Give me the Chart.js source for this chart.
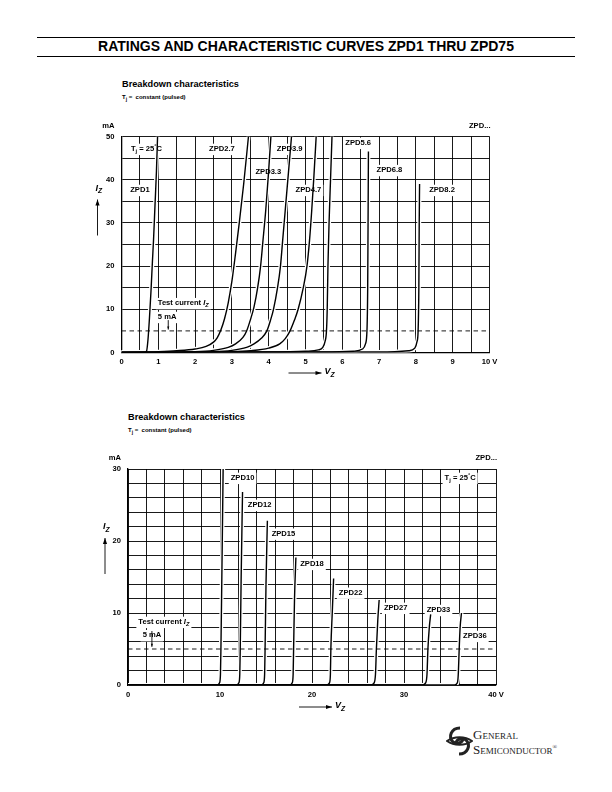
<!DOCTYPE html>
<html>
<head>
<meta charset="utf-8">
<script src="https://cdn.jsdelivr.net/npm/chart.js@4.4.1/dist/chart.umd.min.js"></script>
<style>
  body { margin: 0; width: 612px; height: 792px; position: relative; overflow: hidden; background: #fff;
         font-family: "Liberation Sans", Arial, sans-serif; color: #000; }
  .rule { position: absolute; left: 37px; width: 538px; border-top: 1.2px solid #000; }
  #title { position: absolute; left: 0; width: 612px; top: 38px; text-align: center; font-weight: bold;
           font-size: 14px; line-height: 16px; }
  .head { position: absolute; font-weight: bold; font-size: 9.2px; }
  .sub { position: absolute; font-weight: bold; font-size: 6px; }
  .sub sub { font-size: 5px; }
  canvas { position: absolute; left: 0; }
  #logo { position: absolute; left: 446px; top: 724px; width: 140px; height: 34px; }
  #logo .t { position: absolute; left: 27px; font-family: "Liberation Serif", "DejaVu Serif", serif;
             font-variant: small-caps; font-size: 13px; line-height: 13px; color: #222; }
</style>
</head>
<body>
<div class="rule" style="top:37px"></div>
<div id="title">RATINGS AND CHARACTERISTIC CURVES ZPD1 THRU ZPD75</div>
<div class="rule" style="top:56px"></div>

<div class="head" style="left:122px;top:79px">Breakdown characteristics</div>
<div class="sub" style="left:122px;top:94px">T<sub>j</sub> =&nbsp; constant (pulsed)</div>
<canvas id="topChart"></canvas>

<div class="head" style="left:128px;top:412px">Breakdown characteristics</div>
<div class="sub" style="left:128px;top:427px">T<sub>j</sub> =&nbsp; constant (pulsed)</div>
<canvas id="bottomChart"></canvas>

<div id="logo">
  <svg width="27" height="34" viewBox="0 0 27 34" style="position:absolute;left:0;top:0">
    <path d="M14 4 C5 4 2 13 7 18 C11 21 17 19 17 14" fill="none" stroke="#222" stroke-width="3"/>
    <path d="M13 30 C22 30 25 21 20 16 C16 13 10 15 10 20" fill="none" stroke="#222" stroke-width="3"/>
    <path d="M1 17 C8 12 19 12 26 17 C19 22 8 22 1 17 Z" fill="none" stroke="#222" stroke-width="1.8"/>
  </svg>
  <div class="t" style="top:4px">General</div>
  <div class="t" style="top:17px">Semiconductor<sup style="font-size:6px">®</sup></div>
</div>

<script>
// ---- top chart: ZPD1 ... ZPD8.2, V (volts) vs I (mA) ----
const topXTickLabels = ['0', '1', '2', '3', '4', '5', '6', '7', '8', '9', '10 V'];
const topYTickLabels = ['0', '10', '20', '30', '40', '50'];
const zpd1  = [[0,0],[0.6,0.05],[0.68,0.3],[0.72,3],[0.76,8],[0.8,14],[0.84,21],[0.87,26],[0.91,34],[0.95,42],[0.98,50]];
const zpd2v7 = [[0,0],[1,0.2],[1.5,0.4],[2,0.8],[2.3,1.4],[2.5,2.4],[2.6,3.4],[2.7,5.2],[2.8,7.8],[2.9,11.5],[3.0,16.5],[3.1,23],[3.2,30],[3.32,39],[3.45,50]];
const zpd3v3 = [[0,0],[2,0.2],[2.5,0.5],[2.9,1.2],[3.1,2],[3.3,3.5],[3.4,5],[3.5,7.5],[3.6,10.5],[3.7,15],[3.78,20],[3.84,25.5],[3.92,33],[3.99,41],[4.06,50]];
const zpd3v9 = [[0,0],[2.5,0.2],[3,0.5],[3.4,1.2],[3.6,2],[3.8,3.3],[3.95,5],[4.05,7.5],[4.13,10],[4.24,15],[4.32,20],[4.38,26],[4.45,33],[4.53,41],[4.62,50]];
const zpd4v7 = [[0,0],[3,0.2],[3.5,0.4],[4,1],[4.3,2],[4.45,3.2],[4.58,5],[4.7,7.5],[4.8,10],[4.94,15],[5.04,20],[5.11,26],[5.17,33],[5.23,41],[5.29,50]];
const zpd5v6 = [[0,0],[4,0.1],[5,0.3],[5.35,0.6],[5.47,1.2],[5.53,2.5],[5.57,5],[5.59,10],[5.61,20],[5.64,30],[5.68,40],[5.72,50]];
const zpd6v8 = [[0,0],[5.5,0.1],[6.3,0.3],[6.55,0.8],[6.63,2],[6.67,5],[6.69,15],[6.7,30],[6.71,46.5]];
const zpd8v2 = [[0,0],[7,0.1],[7.8,0.4],[7.97,1],[8.03,2.5],[8.06,5],[8.08,15],[8.09,30],[8.1,39]];
const topTestLine = [[0,5],[10,5]];

// ---- bottom chart: ZPD10 ... ZPD36 ----
const bottomXTickLabels = ['0', '10', '20', '30', '40 V'];
const bottomYTickLabels = ['0', '10', '20', '30'];
const zpd10 = [[0,0],[9.7,0],[9.95,0.3],[10.05,1.5],[10.1,5],[10.2,15],[10.35,31]];
const zpd12 = [[0,0],[11.8,0],[12.05,0.3],[12.15,1.5],[12.2,5],[12.3,15],[12.45,26.8]];
const zpd15 = [[0,0],[14.5,0],[14.75,0.3],[14.85,1.5],[14.9,5],[15.0,14],[15.15,22.8]];
const zpd18 = [[0,0],[17.6,0],[17.85,0.3],[17.95,1.5],[18.0,5],[18.1,12],[18.25,17.7]];
const zpd22 = [[0,0],[21.6,0],[21.9,0.3],[22.0,1.5],[22.05,5],[22.2,10],[22.35,14.8]];
const zpd27 = [[0,0],[26.4,0],[26.75,0.3],[26.9,1.5],[27.0,5],[27.15,9],[27.3,11.8]];
const zpd33 = [[0,0],[32.0,0],[32.35,0.3],[32.5,1.5],[32.6,5],[32.75,8],[32.9,9.8]];
const zpd36 = [[0,0],[35.5,0],[35.8,0.3],[35.9,1.5],[36.0,5],[36.1,8],[36.25,10]];
const bottomTestLine = [[0,5],[40,5]];

const FONT = '"Liberation Sans", Arial, sans-serif';
const T_J = [{t: 'T'}, {t: 'j', sub: true}, {t: ' = 25'}, {t: '°', sup: true}, {t: 'C'}];
const TEST = [{t: 'Test current '}, {t: 'I', it: true}, {t: 'Z', sub: true, it: true}];

// curve labels, in data coordinates (centre of the text)
const topNotes = [
  {parts: T_J, x: 0.68, y: 47.1},
  {parts: [{t: 'ZPD2.7'}], x: 2.73, y: 47.1},
  {parts: [{t: 'ZPD3.9'}], x: 4.57, y: 47.1},
  {parts: [{t: 'ZPD5.6'}], x: 6.43, y: 48.5},
  {parts: [{t: 'ZPD3.3'}], x: 3.99, y: 41.8},
  {parts: [{t: 'ZPD6.8'}], x: 7.28, y: 42.2},
  {parts: [{t: 'ZPD1'}], x: 0.5, y: 37.6},
  {parts: [{t: 'ZPD4.7'}], x: 5.08, y: 37.6},
  {parts: [{t: 'ZPD8.2'}], x: 8.71, y: 37.6},
  {parts: TEST, x: 1.68, y: 11.4},
  {parts: [{t: '5 mA'}], x: 1.24, y: 8.2}
];
const bottomNotes = [
  {parts: [{t: 'ZPD10'}], x: 12.45, y: 28.75},
  {parts: [{t: 'ZPD12'}], x: 14.3, y: 25},
  {parts: [{t: 'ZPD15'}], x: 16.9, y: 21},
  {parts: [{t: 'ZPD18'}], x: 20.0, y: 16.8},
  {parts: [{t: 'ZPD22'}], x: 24.2, y: 12.8},
  {parts: [{t: 'ZPD27'}], x: 29.1, y: 10.7},
  {parts: [{t: 'ZPD33'}], x: 33.75, y: 10.4},
  {parts: [{t: 'ZPD36'}], x: 37.7, y: 6.8},
  {parts: T_J, x: 36.1, y: 28.75},
  {parts: TEST, x: 3.9, y: 8.75},
  {parts: [{t: '5 mA'}], x: 2.6, y: 6.9}
];

function partFont(p, size) {
  const s = (p.sub || p.sup) ? size * 0.75 : size;
  return (p.it ? 'italic ' : '') + 'bold ' + s + 'px ' + FONT;
}

function drawRich(ctx, parts, cx, cy, size, align, box) {
  let w = 0;
  parts.forEach(p => { ctx.font = partFont(p, size); w += ctx.measureText(p.t).width; });
  let x = align === 'center' ? cx - w / 2 : (align === 'right' ? cx - w : cx);
  if (box) {
    ctx.fillStyle = '#fff';
    ctx.fillRect(x - 2, cy - size * 0.7, w + 4, size * 1.5);
  }
  ctx.fillStyle = '#000';
  ctx.textBaseline = 'middle';
  ctx.textAlign = 'left';
  parts.forEach(p => {
    ctx.font = partFont(p, size);
    const dy = p.sub ? size * 0.3 : (p.sup ? -size * 0.3 : 0);
    ctx.fillText(p.t, x, cy + dy);
    x += ctx.measureText(p.t).width;
  });
}

function arrow(ctx, x1, y1, x2, y2, head) {
  ctx.strokeStyle = '#000';
  ctx.fillStyle = '#000';
  ctx.lineWidth = 0.9;
  ctx.beginPath(); ctx.moveTo(x1, y1); ctx.lineTo(x2, y2); ctx.stroke();
  const a = Math.atan2(y2 - y1, x2 - x1);
  ctx.beginPath();
  ctx.moveTo(x2, y2);
  ctx.lineTo(x2 - head * Math.cos(a) + head * 0.35 * Math.sin(a), y2 - head * Math.sin(a) - head * 0.35 * Math.cos(a));
  ctx.lineTo(x2 - head * Math.cos(a) - head * 0.35 * Math.sin(a), y2 - head * Math.sin(a) + head * 0.35 * Math.cos(a));
  ctx.closePath(); ctx.fill();
}

// black curves first (drawn last), then the dashed test line, then white casings (drawn first)
function curveSets(curves, testLine) {
  const sets = [];
  curves.forEach(c => sets.push({data: c.map(p => ({x: p[0], y: p[1]})), borderColor: '#000', borderWidth: 1.4, order: 1}));
  sets.push({data: testLine.map(p => ({x: p[0], y: p[1]})), borderColor: '#000', borderWidth: 0.9,
             borderDash: [4.5, 3.5], cubicInterpolationMode: 'default', tension: 0, order: 2});
  curves.forEach(c => sets.push({data: c.map(p => ({x: p[0], y: p[1]})), borderColor: '#fff', borderWidth: 4, order: 3}));
  return sets;
}

function makeChart(id, o) {
  const cv = document.getElementById(id);
  cv.style.top = o.top + 'px';
  cv.style.width = '612px';
  cv.style.height = o.height + 'px';

  const notesPlugin = {
    id: 'notes',
    // labels go on top of the white casings but under the black curves
    beforeDatasetDraw(chart, args) {
      if (args.index !== o.curves.length - 1) return;
      const ctx = chart.ctx;
      ctx.save();
      o.notes.forEach(n => {
        const px = chart.scales.x.getPixelForValue(n.x);
        const py = chart.scales.y.getPixelForValue(n.y);
        drawRich(ctx, n.parts, px, py, 7.6, 'center', true);
      });
      ctx.restore();
    },
    afterDraw(chart) {
      const ctx = chart.ctx, a = chart.chartArea;
      ctx.save();
      // test current arrow
      const ax = chart.scales.x.getPixelForValue(o.arrowX);
      arrow(ctx, ax, chart.scales.y.getPixelForValue(7.5), ax, chart.scales.y.getPixelForValue(5.3), 3);
      drawRich(ctx, [{t: 'mA'}], a.left - 7, a.top - 11, 7.6, 'right', false);
      drawRich(ctx, [{t: 'ZPD...'}], a.right + 1, a.top - 11, 7.6, 'right', false);
      // I_Z label with arrow
      drawRich(ctx, [{t: 'I', it: true}, {t: 'Z', it: true, sub: true}], a.left + o.izDx, a.top + o.izDy, 9, 'left', false);
      arrow(ctx, a.left + o.izDx + 2, a.top + o.izDy + 47, a.left + o.izDx + 2, a.top + o.izDy + 11, 6);
      // V_Z label with arrow
      const vx = (a.left + a.right) / 2 + o.vzDx;
      arrow(ctx, vx - 17, a.bottom + o.vzDy, vx + 16, a.bottom + o.vzDy, 6);
      drawRich(ctx, [{t: 'V', it: true}, {t: 'Z', it: true, sub: true}], vx + 19, a.bottom + o.vzDy - 1, 9, 'left', false);
      ctx.restore();
    }
  };

  return new Chart(cv, {
    type: 'scatter',
    data: {datasets: curveSets(o.curves, o.testLine)},
    options: {
      responsive: false,
      animation: false,
      events: [],
      layout: {padding: {left: 0, right: o.padRight, top: o.padTop, bottom: 0}},
      elements: {
        point: {radius: 0},
        line: {cubicInterpolationMode: 'monotone', capBezierPoints: true, fill: false}
      },
      datasets: {scatter: {showLine: true}},
      scales: {
        x: {
          min: 0, max: o.xMax,
          afterFit: s => { s.height = o.xAxisH; },
          border: {display: true, color: '#000', width: 1.3},
          grid: {color: '#000', lineWidth: 0.9, drawTicks: false},
          ticks: {
            stepSize: o.xStep, autoSkip: false, maxRotation: 0, padding: 5, color: '#000',
            font: {family: FONT, size: 7.6, weight: 'bold'},
            callback: v => Math.abs(v % o.xLabelStep) < 1e-6 ? o.xLabels[Math.round(v / o.xLabelStep)] : ''
          }
        },
        y: {
          min: 0, max: o.yMax,
          afterFit: s => { s.width = o.yAxisW; },
          border: {display: true, color: '#000', width: 1.3},
          grid: {color: c => c.tick.value === 5 ? 'rgba(0,0,0,0)' : '#000', lineWidth: 0.9, drawTicks: false},
          ticks: {
            stepSize: o.yStep, autoSkip: false, padding: 7, color: '#000',
            font: {family: FONT, size: 7.6, weight: 'bold'},
            callback: v => Math.abs(v % 10) < 1e-6 ? o.yLabels[Math.round(v / 10)] : ''
          }
        }
      },
      plugins: {legend: {display: false}, tooltip: {enabled: false}}
    },
    plugins: [notesPlugin]
  });
}

makeChart('topChart', {
  top: 110, height: 280, padTop: 26.5, padRight: 122.5, yAxisW: 121.5, xAxisH: 37.5,
  xMax: 10, xStep: 0.5, xLabelStep: 1, xLabels: topXTickLabels,
  yMax: 50, yStep: 5, yLabels: topYTickLabels,
  curves: [zpd1, zpd2v7, zpd3v3, zpd3v9, zpd4v7, zpd5v6, zpd6v8, zpd8v2], testLine: topTestLine,
  notes: topNotes, arrowX: 1.27, izDx: -26, izDy: 52, vzDx: 0, vzDy: 20.5
});

makeChart('bottomChart', {
  top: 440, height: 280, padTop: 29, padRight: 116, yAxisW: 128, xAxisH: 35,
  xMax: 40, xStep: 2, xLabelStep: 10, xLabels: bottomXTickLabels,
  yMax: 30, yStep: 2, yLabels: bottomYTickLabels,
  curves: [zpd10, zpd12, zpd15, zpd18, zpd22, zpd27, zpd33, zpd36], testLine: bottomTestLine,
  notes: bottomNotes, arrowX: 2.6, izDx: -25, izDy: 58, vzDx: 4, vzDy: 22
});
</script>
</body>
</html>
